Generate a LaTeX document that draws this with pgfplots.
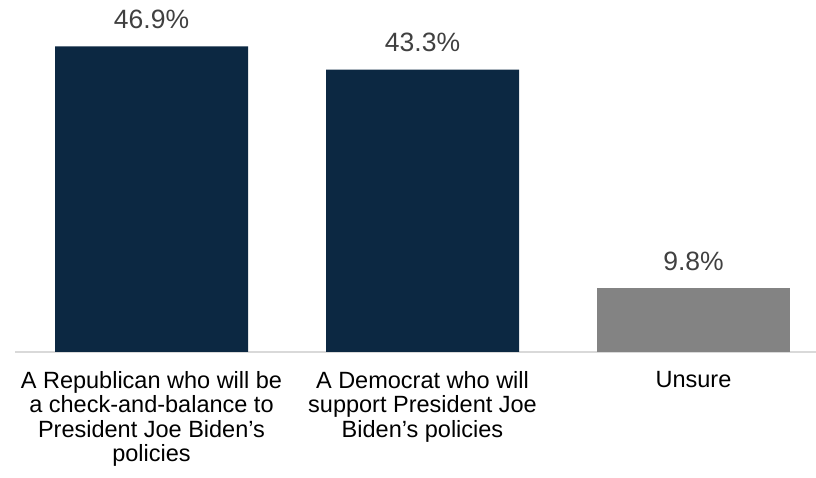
\documentclass[border=0pt]{standalone}
\usepackage{pgfplots}
\pgfplotsset{compat=1.18}
\usepackage{fontspec}
\setmainfont{Liberation Sans}
\definecolor{navy}{HTML}{0C2842}
\definecolor{barGray}{HTML}{838383}
\definecolor{valText}{HTML}{404040}
\definecolor{axGray}{HTML}{D9D9D9}
\begin{document}
\begin{tikzpicture}
\begin{axis}[
  scale only axis,
  width=801pt, height=352pt,
  xmin=-0.5037, xmax=2.452,
  ymin=0, ymax=54.0,
  ybar, bar width=193pt, bar shift=0pt,
  axis x line=bottom,
  axis y line=none,
  x axis line style={-, draw=axGray, line width=1.5pt},
  xtick={0,1,2},
  xtick style={draw=none},
  xticklabels={{A Republican who will be\\a check-and-balance to\\President Joe Biden’s\\policies},
               {A Democrat who will\\support President Joe\\Biden’s policies},
               {Unsure}},
  xticklabel style={align=center, font=\fontsize{23.5}{24.2}\selectfont, text=black, anchor=north, yshift=-14pt},
  ytick=\empty,
  /pgf/number format/assume math mode=true,
  nodes near coords={\pgfmathprintnumber[fixed,precision=1,fixed zerofill]{\pgfplotspointmeta}\%},
  nodes near coords style={font=\fontsize{26.5}{28}\selectfont, text=valText, anchor=base, yshift=18pt, inner sep=0pt},
  clip=false,
]
\addplot[fill=navy, draw=none] coordinates {(0,46.9) (1,43.3)};
\addplot[fill=barGray, draw=none] coordinates {(2,9.8)};
\end{axis}
\pgfresetboundingbox
\path (current axis.south west) ++(-15pt,-126pt) coordinate (bbsw);
\useasboundingbox (bbsw) rectangle (current axis.north east);
\end{tikzpicture}
\end{document}
